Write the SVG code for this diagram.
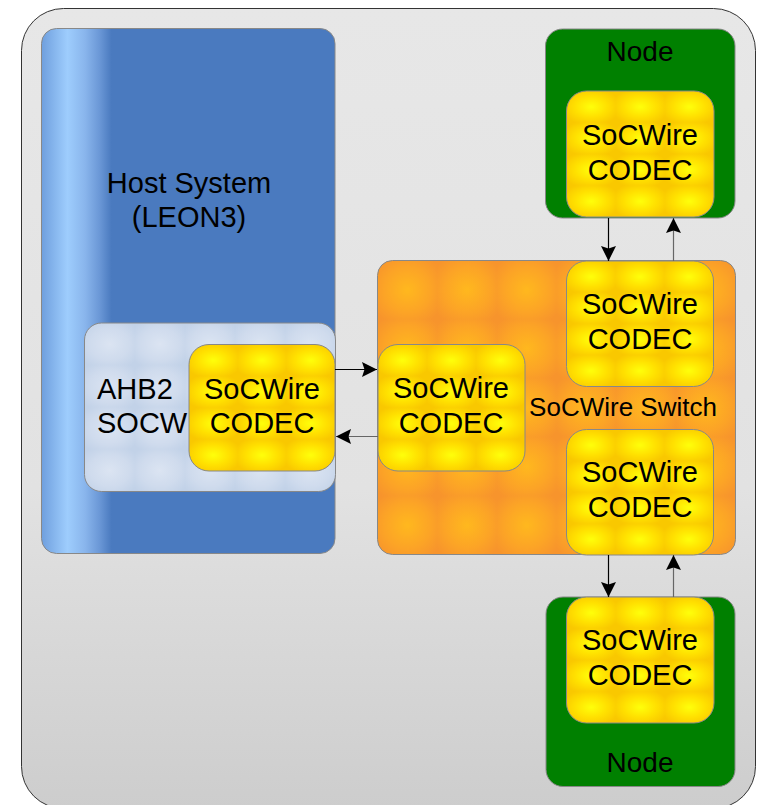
<svg xmlns="http://www.w3.org/2000/svg" width="757" height="805" viewBox="0 0 757 805">
  <style>
    .lbl { font-family: "Liberation Sans", Arial, sans-serif; fill: #000; }
    .big { font-size: 29px; text-anchor: middle; }
    .node-lbl { font-size: 28px; text-anchor: middle; }
    .sw-lbl { font-size: 26px; text-anchor: middle; }
    .box { stroke: #888; stroke-width: 1; }
    .codec { fill: url(#codecTex); stroke: #888; stroke-width: 1; }
    .fwd { stroke: #000; stroke-width: 1.2; fill: none; marker-end: url(#head); }
    .ret { stroke: #666; stroke-width: 1.2; fill: none; marker-end: url(#head); }
  </style>
  <defs>
    <linearGradient id="frameFill" x1="0" y1="0" x2="0" y2="1">
      <stop offset="0" stop-color="#e7e7e7"/>
      <stop offset="0.6" stop-color="#e2e2e2"/>
      <stop offset="1" stop-color="#cdcdcd"/>
    </linearGradient>
    <linearGradient id="hostFill" gradientUnits="userSpaceOnUse" x1="41" y1="0" x2="335" y2="0">
      <stop offset="0" stop-color="#6e9edd"/>
      <stop offset="0.09" stop-color="#9ecdfd"/>
      <stop offset="0.15" stop-color="#89b5ec"/>
      <stop offset="0.2" stop-color="#6a97d6"/>
      <stop offset="0.24" stop-color="#4a7abf"/>
      <stop offset="1" stop-color="#4a7abf"/>
    </linearGradient>
    <!-- soft tile textures -->
    <radialGradient id="yelSpot" cx="0.5" cy="0.5" r="0.6">
      <stop offset="0" stop-color="#ffff0a"/>
      <stop offset="0.55" stop-color="#ffe000"/>
      <stop offset="1" stop-color="#f9c800"/>
    </radialGradient>
    <pattern id="codecTex" patternUnits="objectBoundingBox" patternContentUnits="objectBoundingBox" width="0.3333" height="0.25">
      <rect width="0.3333" height="0.25" fill="url(#yelSpot)"/>
    </pattern>
    <radialGradient id="orgSpot" cx="0.5" cy="0.5" r="0.65">
      <stop offset="0" stop-color="#ffb81e"/>
      <stop offset="0.6" stop-color="#fca426"/>
      <stop offset="1" stop-color="#f7942c"/>
    </radialGradient>
    <pattern id="switchTex" patternUnits="objectBoundingBox" patternContentUnits="objectBoundingBox" width="0.1667" height="0.2">
      <rect width="0.1667" height="0.2" fill="url(#orgSpot)"/>
    </pattern>
    <radialGradient id="blueSpot" cx="0.5" cy="0.5" r="0.65">
      <stop offset="0" stop-color="#dbe4f2"/>
      <stop offset="0.6" stop-color="#cfdbed"/>
      <stop offset="1" stop-color="#c2d2e8"/>
    </radialGradient>
    <pattern id="ahbTex" patternUnits="objectBoundingBox" patternContentUnits="objectBoundingBox" width="0.2" height="0.25">
      <rect width="0.2" height="0.25" fill="url(#blueSpot)"/>
    </pattern>
    <marker id="head" markerUnits="userSpaceOnUse" markerWidth="16" markerHeight="16" viewBox="0 0 16 16" refX="15" refY="8" orient="auto">
      <path d="M0,0.5 L15,8 L0,15.5 L2.5,8 z" fill="#000"/>
    </marker>
  </defs>

  <!-- enclosing panel -->
  <g id="frame">
    <rect x="21.5" y="8.5" width="734" height="800" rx="42" ry="42" fill="url(#frameFill)" stroke="#333" stroke-width="1"/>
  </g>

  <!-- host processor system -->
  <g id="host-system">
    <rect class="box" x="41.5" y="28.5" width="293.5" height="525" rx="15" ry="15" fill="url(#hostFill)"/>
    <text class="lbl big" x="189" y="193">Host System</text>
    <text class="lbl big" x="189" y="227">(LEON3)</text>
  </g>

  <g id="ahb2socw">
    <rect class="box" x="84.5" y="323" width="251" height="168.5" rx="17" ry="17" fill="url(#ahbTex)"/>
    <text class="lbl" font-size="29" x="97" y="399">AHB2</text>
    <text class="lbl" font-size="29" x="97" y="433">SOCW</text>
  </g>

  <g id="host-codec">
    <rect class="codec" x="189" y="344.5" width="146" height="126.5" rx="20" ry="20"/>
    <text class="lbl big" x="262" y="399">SoCWire</text>
    <text class="lbl big" x="262" y="433">CODEC</text>
  </g>

  <!-- router -->
  <g id="switch">
    <rect class="box" x="377.5" y="260.5" width="358" height="294" rx="15" ry="15" fill="url(#switchTex)"/>
    <text class="lbl sw-lbl" x="623" y="416">SoCWire Switch</text>
  </g>

  <g id="switch-codec-west">
    <rect class="codec" x="378" y="344.5" width="147" height="126.5" rx="20" ry="20"/>
    <text class="lbl big" x="451" y="398">SoCWire</text>
    <text class="lbl big" x="451" y="433">CODEC</text>
  </g>

  <g id="switch-codec-north">
    <rect class="codec" x="566.5" y="261" width="147" height="125.5" rx="20" ry="20"/>
    <text class="lbl big" x="640" y="314">SoCWire</text>
    <text class="lbl big" x="640" y="349">CODEC</text>
  </g>

  <g id="switch-codec-south">
    <rect class="codec" x="566.5" y="429.5" width="147" height="125.5" rx="20" ry="20"/>
    <text class="lbl big" x="640" y="482">SoCWire</text>
    <text class="lbl big" x="640" y="517">CODEC</text>
  </g>

  <!-- attached nodes -->
  <g id="node-top">
    <rect class="box" x="545.5" y="29" width="189.5" height="189" rx="17" ry="17" fill="#008000"/>
    <text class="lbl node-lbl" x="640" y="61">Node</text>
  </g>

  <g id="node-top-codec">
    <rect class="codec" x="566.5" y="91" width="147.5" height="126" rx="20" ry="20"/>
    <text class="lbl big" x="640" y="145">SoCWire</text>
    <text class="lbl big" x="640" y="180">CODEC</text>
  </g>

  <g id="node-bottom">
    <rect class="box" x="546" y="597" width="189" height="189.5" rx="17" ry="17" fill="#008000"/>
    <text class="lbl node-lbl" x="640" y="772">Node</text>
  </g>

  <g id="node-bottom-codec">
    <rect class="codec" x="566.5" y="597" width="147.5" height="126" rx="20" ry="20"/>
    <text class="lbl big" x="640" y="650">SoCWire</text>
    <text class="lbl big" x="640" y="685">CODEC</text>
  </g>

  <!-- links -->
  <g id="connectors">
    <path class="fwd" d="M335,369.5 H377"/>
    <path class="ret" d="M378,436.5 H336"/>
    <path class="fwd" d="M608.5,218 V261"/>
    <path class="ret" d="M673.5,261 V218"/>
    <path class="fwd" d="M608.5,555 V597"/>
    <path class="ret" d="M673.5,597 V555"/>
  </g>
</svg>
